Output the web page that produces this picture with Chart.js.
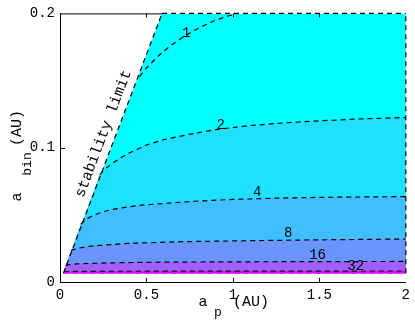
<!DOCTYPE html>
<html>
<head>
<meta charset="utf-8">
<script src="https://cdn.jsdelivr.net/npm/chart.js@4.4.1/dist/chart.umd.min.js"></script>
<style>
  body { margin: 0; background: #fff; }
  #wrap { width: 415px; height: 322px; }
</style>
</head>
<body>
<div id="wrap"><canvas id="myChart"></canvas></div>
<script>
// stability limit line (a_p, a_bin)
var stabX = [0.02, 0.59];
var stabY = [0.0066, 0.2];
var bottomY = 0.0065;

// contours
var levels = ['1', '2', '4', '8', '16', '32'];
var c1x = [0.46, 0.49, 0.52, 0.575, 0.64, 0.707, 0.80, 0.90, 0.97, 1.03];
var c1y = [0.153, 0.158, 0.162, 0.169, 0.176, 0.182, 0.189, 0.195, 0.198, 0.2];
var c2x = [0.23, 0.26, 0.30, 0.35, 0.40, 0.50, 0.60, 0.75, 0.90, 1.10, 1.30, 1.50, 1.75, 2.0];
var c2y = [0.080, 0.0842, 0.088, 0.0925, 0.096, 0.102, 0.106, 0.110, 0.1135, 0.1165, 0.1185, 0.120, 0.1215, 0.1225];
var c4x = [0.12, 0.15, 0.20, 0.25, 0.30, 0.45, 0.60, 0.80, 1.00, 1.25, 1.50, 2.0];
var c4y = [0.043, 0.0468, 0.050, 0.0523, 0.054, 0.057, 0.0585, 0.0603, 0.0615, 0.0624, 0.063, 0.0636];
var c8x = [0.063, 0.08, 0.10, 0.15, 0.20, 0.40, 0.70, 1.00, 1.50, 2.0];
var c8y = [0.0234, 0.0243, 0.025, 0.0262, 0.027, 0.0288, 0.030, 0.0306, 0.0314, 0.032];
var c16x = [0.032, 0.06, 0.10, 0.30, 0.60, 1.00, 1.50, 2.0];
var c16y = [0.0124, 0.0131, 0.0135, 0.0143, 0.0148, 0.0150, 0.0152, 0.0153];
var c32x = [0.022, 0.30, 1.00, 2.0];
var c32y = [0.0078, 0.0080, 0.0081, 0.0082];

// contour label spots
var labX = [0.73, 0.93, 1.14, 1.32, 1.49, 1.71];
var labY = [0.185, 0.117, 0.067, 0.0365, 0.0197, 0.0117];

var contoursX = [c1x, c2x, c4x, c8x, c16x, c32x];
var contoursY = [c1y, c2y, c4y, c8y, c16y, c32y];
var regionColors = ['#00ffff', '#1fe0ff', '#40bfff', '#6a95ff', '#a060ff', '#e600ff'];

function pts(xs, ys) {
  return xs.map(function (x, i) { return { x: x, y: ys[i] }; });
}

var datasets = [];
// base region (right of stability limit)
datasets.push({
  data: [{ x: stabX[0], y: stabY[0] }, { x: stabX[1], y: stabY[1] }, { x: 2, y: 0.2 }],
  borderWidth: 0, backgroundColor: '#00ffff', fill: { value: bottomY }, order: 30
});
// region below each contour
contoursX.forEach(function (cx, k) {
  var d = [{ x: stabX[0], y: stabY[0] }].concat(pts(cx, contoursY[k]));
  if (cx[cx.length - 1] < 2) d.push({ x: 2, y: 0.2 });
  datasets.push({
    data: d, borderWidth: 0, backgroundColor: regionColors[k],
    fill: { value: bottomY }, order: 29 - k
  });
});
// dashed lines
var dash = { borderColor: '#000', borderWidth: 1.2, borderDash: [5, 4], fill: false, clip: false, order: 1 };
datasets.push(Object.assign({ data: pts(stabX, stabY) }, dash));
datasets.push(Object.assign({ data: [{ x: stabX[1], y: 0.2 }, { x: 2, y: 0.2 }] }, dash));
datasets.push(Object.assign({ data: [{ x: 2, y: bottomY }, { x: 2, y: 0.2 }] }, dash));
contoursX.forEach(function (cx, k) {
  datasets.push(Object.assign({ data: pts(cx, contoursY[k]) }, dash));
});
datasets.push(Object.assign({ data: [{ x: stabX[0], y: bottomY }, { x: 2, y: bottomY }] }, dash, { borderColor: '#ff00ff' }));

var mono = 'Liberation Mono';

var extras = {
  id: 'extras',
  afterDraw: function (chart) {
    var c = chart.ctx, a = chart.chartArea;
    var xs = chart.scales.x, ys = chart.scales.y;
    c.save();
    c.strokeStyle = '#000';
    c.lineWidth = 1;
    // top frame
    c.beginPath();
    c.moveTo(a.left, a.top + 0.5);
    c.lineTo(xs.getPixelForValue(stabX[1]), a.top + 0.5);
    c.stroke();
    // inner ticks
    c.beginPath();
    [0.5, 1, 1.5].forEach(function (v) {
      var px = Math.round(xs.getPixelForValue(v)) + 0.5;
      c.moveTo(px, a.bottom); c.lineTo(px, a.bottom - 4);
      c.moveTo(px, a.top); c.lineTo(px, a.top + 4);
    });
    [0.1].forEach(function (v) {
      var py = Math.round(ys.getPixelForValue(v)) + 0.5;
      c.moveTo(a.left, py); c.lineTo(a.left + 5, py);
    });
    c.stroke();

    c.fillStyle = '#000';
    // contour labels
    c.font = '14px "' + mono + '"';
    c.textAlign = 'center';
    c.textBaseline = 'middle';
    levels.forEach(function (t, i) {
      c.fillText(t, xs.getPixelForValue(labX[i]), ys.getPixelForValue(labY[i]));
    });

    // stability limit text
    var p0x = xs.getPixelForValue(stabX[0]), p0y = ys.getPixelForValue(stabY[0]);
    var p1x = xs.getPixelForValue(stabX[1]), p1y = ys.getPixelForValue(stabY[1]);
    var ang = Math.atan2(p1y - p0y, p1x - p0x);
    var f = 0.52;
    c.save();
    c.translate(p0x + (p1x - p0x) * f, p0y + (p1y - p0y) * f);
    c.rotate(ang);
    c.font = '15px "' + mono + '"';
    c.fillText('stability limit', 0, -12);
    c.restore();

    // axis titles
    c.font = '15px "' + mono + '"';
    c.fillText('a', 203, 302);
    c.fillText('(AU)', 251, 302);
    c.font = '13px "' + mono + '"';
    c.fillText('p', 218, 313);

    c.save();
    c.translate(17, 197);
    c.rotate(-Math.PI / 2);
    c.font = '15px "' + mono + '"';
    c.fillText('a', 0, 0);
    c.fillText('(AU)', 69, 0);
    c.font = '13px "' + mono + '"';
    c.fillText('bin', 33, 11);
    c.restore();
    c.restore();
  }
};

var ctx = document.getElementById('myChart').getContext('2d');
new Chart(ctx, {
  type: 'line',
  data: { datasets: datasets },
  options: {
    responsive: true,
    maintainAspectRatio: false,
    animation: false,
    elements: { point: { radius: 0 }, line: { tension: 0 } },
    layout: { padding: { top: 8, right: 7, left: 0, bottom: 0 } },
    plugins: { legend: { display: false }, tooltip: { enabled: false } },
    scales: {
      x: {
        type: 'linear', min: 0, max: 2,
        afterFit: function (s) { s.height = 40; },
        grid: { drawOnChartArea: false, drawTicks: false },
        border: { display: true, color: '#000', width: 1 },
        ticks: {
          stepSize: 0.5, padding: 5, color: '#000', maxRotation: 0,
          font: { family: mono, size: 14 },
          callback: function (v) { return String(+v.toFixed(2)); }
        }
      },
      y: {
        min: 0, max: 0.2,
        afterFit: function (s) { s.width = 60; },
        grid: { drawOnChartArea: false, drawTicks: false },
        border: { display: true, color: '#000', width: 1 },
        ticks: {
          stepSize: 0.1, padding: 5, color: '#000',
          font: { family: mono, size: 14 },
          callback: function (v) { return String(+v.toFixed(2)); }
        }
      }
    }
  },
  plugins: [extras]
});
</script>
</body>
</html>
